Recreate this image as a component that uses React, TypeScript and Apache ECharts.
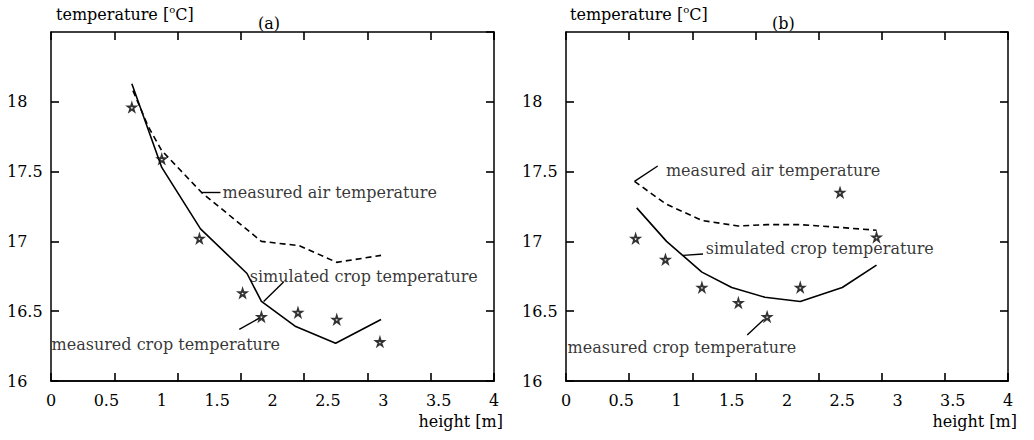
import React, { useEffect, useRef } from "react";
import * as echarts from "echarts";

const FONT = "DejaVu Serif";

// ---------- panel (a) ----------
const aSimX = [0.73, 1.0, 1.35, 1.77, 1.9, 2.21, 2.57, 2.98];
const aSimY = [18.13, 17.53, 17.09, 16.77, 16.57, 16.39, 16.27, 16.44];
const aAirX = [0.74, 0.88, 1.0, 1.36, 1.9, 2.24, 2.58, 2.98];
const aAirY = [18.08, 17.82, 17.65, 17.35, 17.0, 16.97, 16.85, 16.9];
const aCropX = [0.73, 1.0, 1.34, 1.73, 1.9, 2.23, 2.58, 2.97];
const aCropY = [17.96, 17.59, 17.02, 16.63, 16.46, 16.49, 16.44, 16.28];
const aLabelText = ["measured air temperature", "simulated crop temperature", "measured crop temperature"];
const aLabelX = [1.545, 1.79, 0.0];
const aLabelY = [17.35, 16.745, 16.26];
const aLeaders = [
  [1.36, 17.35, 1.53, 17.35],
  [1.92, 16.57, 2.1, 16.71],
  [1.7, 16.37, 1.88, 16.45],
];

// ---------- panel (b) ----------
const bSimX = [0.64, 0.91, 1.23, 1.5, 1.8, 2.12, 2.5, 2.81];
const bSimY = [17.24, 17.0, 16.78, 16.67, 16.6, 16.57, 16.67, 16.83];
const bAirX = [0.62, 0.9, 1.23, 1.56, 1.82, 2.12, 2.48, 2.81];
const bAirY = [17.43, 17.27, 17.15, 17.11, 17.12, 17.12, 17.1, 17.08];
const bCropX = [0.63, 0.9, 1.23, 1.56, 1.82, 2.12, 2.48, 2.81];
const bCropY = [17.02, 16.87, 16.67, 16.56, 16.46, 16.67, 17.35, 17.03];
const bLabelText = ["measured air temperature", "simulated crop temperature", "measured crop temperature"];
const bLabelX = [0.9, 1.26, 0.01];
const bLabelY = [17.51, 16.95, 16.24];
const bLeaders = [
  [0.62, 17.43, 0.83, 17.54],
  [1.06, 16.9, 1.24, 16.91],
  [1.64, 16.33, 1.79, 16.44],
];

const X_MIN = 0, X_MAX = 4, X_STEP = 0.5;
const Y_MIN = 16, Y_MAX = 18.5, Y_STEP = 0.5;
const FRAME_TICK_STEP = 4 / 7;

const STAR = "path://M50,0 L61,35 L98,35 L68,57 L79,91 L50,70 L21,91 L32,57 L2,35 L39,35 Z";

const zip = (xs: number[], ys: number[]) => xs.map((x, i) => [x, ys[i]]);

function panelSeries(g: number, simX: number[], simY: number[], airX: number[], airY: number[],
  cropX: number[], cropY: number[], lt: string[], lx: number[], ly: number[], leaders: number[][]) {
  const xi = g * 3;
  const yi = g * 2;
  return [
    {
      type: "line", xAxisIndex: xi, yAxisIndex: yi, data: zip(simX, simY), symbol: "none",
      lineStyle: { color: "#000", width: 1.6 }, z: 3,
    },
    {
      type: "line", xAxisIndex: xi, yAxisIndex: yi, data: zip(airX, airY), symbol: "none",
      lineStyle: { color: "#000", width: 1.6, type: [6, 4] }, z: 3,
    },
    {
      type: "scatter", xAxisIndex: xi, yAxisIndex: yi, data: zip(cropX, cropY), symbol: STAR,
      symbolSize: 8, itemStyle: { color: "#fff", borderColor: "#000", borderWidth: 1.8 }, z: 4,
    },
    {
      type: "scatter", xAxisIndex: xi, yAxisIndex: yi, symbol: "circle", symbolSize: 1,
      itemStyle: { color: "rgba(0,0,0,0)" }, silent: true,
      data: lt.map((t, i) => ({ value: [lx[i], ly[i]], name: t })),
      label: {
        show: true, position: "right", distance: 0, formatter: (p: any) => p.name,
        color: "#000", fontFamily: FONT, fontSize: 16,
      },
      markLine: {
        silent: true, symbol: ["none", "none"], animation: false,
        label: { show: false },
        lineStyle: { color: "#000", width: 1.4, type: "solid" },
        data: leaders.map((l) => [{ coord: [l[0], l[1]] }, { coord: [l[2], l[3]] }]),
      },
    },
  ];
}

const mkLine = () => ({ show: true, onZero: false, lineStyle: { color: "#000", width: 1.5 } });
const mkTick = () => ({ show: true, inside: true, length: 8, lineStyle: { color: "#000", width: 1.6 } });
const blankLabel = () => ({ show: true, formatter: () => "" });

function axesFor(g: number) {
  const xs = [
    {
      gridIndex: g, type: "value", min: X_MIN, max: X_MAX, interval: X_STEP, position: "bottom",
      axisLine: mkLine(), axisTick: { show: false }, splitLine: { show: false },
      axisLabel: { color: "#000", fontFamily: FONT, fontSize: 16, margin: 11 },
    },
    {
      gridIndex: g, type: "value", min: X_MIN, max: X_MAX, interval: FRAME_TICK_STEP, position: "top",
      axisLine: mkLine(), axisTick: mkTick(), splitLine: { show: false }, axisLabel: blankLabel(),
    },
    {
      gridIndex: g, type: "value", min: X_MIN, max: X_MAX, interval: FRAME_TICK_STEP, position: "bottom",
      axisLine: mkLine(), axisTick: mkTick(), splitLine: { show: false }, axisLabel: blankLabel(),
    },
  ];
  const ys = [
    {
      gridIndex: g, type: "value", min: Y_MIN, max: Y_MAX, interval: Y_STEP, position: "left",
      axisLine: mkLine(), axisTick: mkTick(), splitLine: { show: false },
      axisLabel: { color: "#000", fontFamily: FONT, fontSize: 16, margin: 44, align: "left", showMaxLabel: false },
    },
    {
      gridIndex: g, type: "value", min: Y_MIN, max: Y_MAX, interval: Y_STEP, position: "right",
      axisLine: mkLine(), axisTick: mkTick(), splitLine: { show: false }, axisLabel: blankLabel(),
    },
  ];
  return { xs, ys };
}

export default function App() {
  const ref = useRef<HTMLDivElement>(null);
  useEffect(() => {
    if (!ref.current) return;
    const chart = echarts.init(ref.current, null, { renderer: "svg" });
    const a = axesFor(0);
    const b = axesFor(1);
    const titleStyle = (text: string) => ({
      text,
      fill: "#000",
      font: `16px "${FONT}"`,
      rich: {
        base: { fontFamily: FONT, fontSize: 16, color: "#000", lineHeight: 20 },
        sup: { fontFamily: FONT, fontSize: 10, color: "#000", lineHeight: 20, verticalAlign: "top" },
      },
    });
    chart.setOption({
      animation: false,
      backgroundColor: "#fff",
      textStyle: { fontFamily: FONT },
      grid: [
        { left: 51, top: 32, width: 443, height: 349, show: false },
        { left: 566, top: 32, width: 442, height: 349, show: false },
      ],
      xAxis: [...a.xs, ...b.xs],
      yAxis: [...a.ys, ...b.ys],
      series: [
        ...panelSeries(0, aSimX, aSimY, aAirX, aAirY, aCropX, aCropY, aLabelText, aLabelX, aLabelY, aLeaders),
        ...panelSeries(1, bSimX, bSimY, bAirX, bAirY, bCropX, bCropY, bLabelText, bLabelX, bLabelY, bLeaders),
      ],
      graphic: [
        { type: "text", left: 56, top: 4, style: titleStyle("{base|temperature [}{sup|o}{base|C]}") },
        { type: "text", left: 570, top: 4, style: titleStyle("{base|temperature [}{sup|o}{base|C]}") },
        { type: "text", left: 258, top: 15, style: { text: "(a)", fill: "#000", font: `16px "${FONT}"` } },
        { type: "text", left: 772, top: 15, style: { text: "(b)", fill: "#000", font: `16px "${FONT}"` } },
        { type: "text", right: 1034 - 503, top: 413, style: { text: "height [m]", fill: "#000", font: `16px "${FONT}"` } },
        { type: "text", right: 1034 - 1017, top: 413, style: { text: "height [m]", fill: "#000", font: `16px "${FONT}"` } },
      ],
    });
    return () => chart.dispose();
  }, []);
  return (
    <div
      ref={ref}
      style={{ position: "absolute", left: 0, top: 0, width: 1034, height: 440, background: "#fff" }}
    />
  );
}
